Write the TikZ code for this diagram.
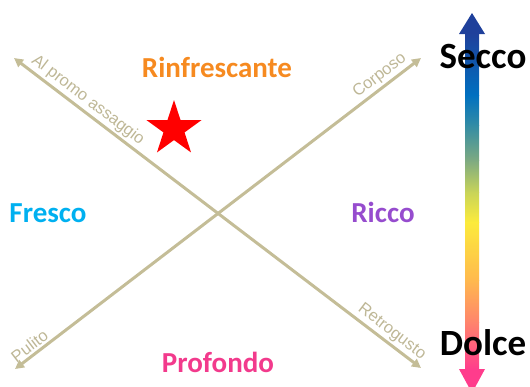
\documentclass[tikz,border=0pt]{standalone}
\usepackage{fontspec}
\setmainfont{Carlito}
\newfontfamily\arialf{Liberation Sans}
\usetikzlibrary{arrows.meta,shapes.geometric}
\definecolor{axistan}{RGB}{196,189,151}
\definecolor{labtan}{RGB}{190,183,150}
\definecolor{cOrange}{RGB}{246,138,32}
\definecolor{cCyan}{RGB}{0,176,240}
\definecolor{cPurple}{RGB}{150,76,206}
\definecolor{cPink}{RGB}{242,58,140}
\definecolor{g1}{RGB}{31,64,155}
\definecolor{g2}{RGB}{0,112,192}
\definecolor{g3}{RGB}{50,140,165}
\definecolor{g4}{RGB}{125,170,130}
\definecolor{g5}{RGB}{200,212,88}
\definecolor{g6}{RGB}{252,235,60}
\definecolor{g7}{RGB}{255,185,78}
\definecolor{g8}{RGB}{255,132,108}
\definecolor{g9}{RGB}{255,60,140}
\tikzset{
  axisline/.style={draw=axistan, line width=3pt,
    {Triangle[length=9pt,width=9pt]}-{Triangle[length=9pt,width=9pt]}},
  axislabel/.style={font=\arialf\fontsize{16.5}{16.5}\selectfont, text=labtan, sloped, above, inner sep=2pt},
  quadword/.style={font=\bfseries\fontsize{29}{29}\selectfont, anchor=base, inner sep=0pt},
  scaleword/.style={font=\bfseries\fontsize{37}{37}\selectfont, anchor=base, inner sep=0pt},
}
\begin{document}
\begin{tikzpicture}[x=1pt,y=-1pt]
\useasboundingbox (0,0) rectangle (530,386);
\clip (0,0) rectangle (530,386);

% axes
\coordinate (tl) at (14,58);
\coordinate (br) at (421,368);
\coordinate (bl) at (15,369);
\coordinate (tr) at (421,58);
\draw[axisline] (tl) -- (br)
  node[axislabel, pos=0.165] (lp) {Al promo assaggio}
  node[axislabel, pos=0.912] (lr) {Retrogusto};
\draw[axisline] (bl) -- (tr)
  node[axislabel, pos=0.05] (lpu) {Pulito}
  node[axislabel, pos=0.915] (lc) {Corposo};

% quadrant words
\node[quadword, text=cOrange] (rinf) at (217,77) {Rinfrescante};
\node[quadword, text=cCyan] (fresco) at (48,222) {Fresco};
\node[quadword, text=cPurple] (ricco) at (383,222) {Ricco};
\node[quadword, text=cPink] (prof) at (218,372) {Profondo};

% star
\node[star, star points=5, star point ratio=2.618, fill=red, draw=none,
      minimum size=58pt, inner sep=0pt] (star) at (174,129) {};

% gradient scale arrow
\fill[g1] (459,34) -- (472,13) -- (485,34) -- cycle;
\fill[g9] (459,369) -- (472,393) -- (485,369) -- cycle;
\shade[top color=g1, bottom color=g2] (465,33) rectangle (479,95.5);
\shade[top color=g2, bottom color=g3] (465,95) rectangle (479,125.5);
\shade[top color=g3, bottom color=g4] (465,125) rectangle (479,160.5);
\shade[top color=g4, bottom color=g5] (465,160) rectangle (479,192.5);
\shade[top color=g5, bottom color=g6] (465,192) rectangle (479,222.5);
\shade[top color=g6, bottom color=g7] (465,222) rectangle (479,280.5);
\shade[top color=g7, bottom color=g8] (465,280) rectangle (479,322.5);
\shade[top color=g8, bottom color=g9] (465,322) rectangle (479,370);

\node[scaleword, text=black] (secco) at (483,68) {Secco};
\node[scaleword, text=black] (dolce) at (483,355) {Dolce};
\end{tikzpicture}
\end{document}
